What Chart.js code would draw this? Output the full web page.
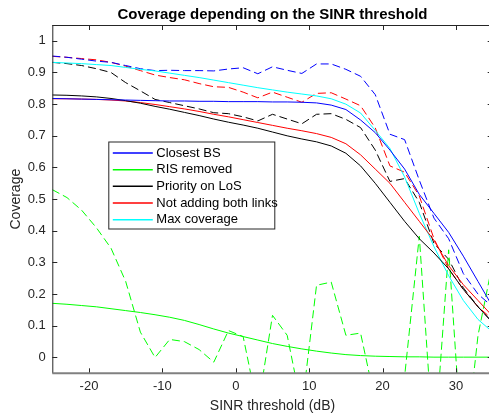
<!DOCTYPE html>
<html lang="en">
<head>
<meta charset="UTF-8">
<script src="https://cdn.jsdelivr.net/npm/chart.js"></script>
<title>Coverage depending on the SINR threshold</title>
<style>
  html, body { margin: 0; padding: 0; overflow: hidden; background: #fff; }
  #wrap { width: 500px; height: 416px; }
</style>
</head>
<body>
<div id="wrap"><canvas id="myChart" width="500" height="416"></canvas></div>
<script>
// SINR threshold values (dB)
const sinr = [-25, -23, -21, -19, -17, -15, -13, -11, -9, -7, -5, -3, -1, 1, 3, 5, 7, 9, 11, 13, 15, 17, 19, 21, 23, 25, 27, 29, 31, 33, 35];

// analytical curves (solid)
const closestBS = [0.818, 0.817, 0.816, 0.815, 0.814, 0.813, 0.812, 0.811, 0.810, 0.810, 0.809, 0.809, 0.808, 0.808, 0.808, 0.807, 0.807, 0.806, 0.804, 0.797, 0.783, 0.750, 0.710, 0.655, 0.595, 0.515, 0.455, 0.395, 0.320, 0.240, 0.160];
const risRemoved = [0.171, 0.168, 0.164, 0.160, 0.154, 0.148, 0.142, 0.135, 0.127, 0.117, 0.104, 0.090, 0.077, 0.066, 0.055, 0.044, 0.035, 0.027, 0.020, 0.014, 0.009, 0.006, 0.004, 0.003, 0.002, 0.002, 0.001, 0.001, 0.001, 0.001, 0.001];
const priorityLoS = [0.829, 0.828, 0.826, 0.823, 0.818, 0.811, 0.803, 0.793, 0.784, 0.774, 0.764, 0.753, 0.743, 0.734, 0.724, 0.712, 0.700, 0.690, 0.681, 0.668, 0.645, 0.605, 0.550, 0.490, 0.430, 0.375, 0.330, 0.280, 0.215, 0.160, 0.110];
const notAdding = [0.817, 0.817, 0.816, 0.815, 0.813, 0.810, 0.805, 0.799, 0.792, 0.785, 0.777, 0.768, 0.760, 0.751, 0.742, 0.733, 0.724, 0.716, 0.707, 0.695, 0.675, 0.640, 0.595, 0.550, 0.490, 0.430, 0.370, 0.290, 0.230, 0.180, 0.130];
const maxCoverage = [0.932, 0.930, 0.928, 0.925, 0.922, 0.916, 0.910, 0.905, 0.898, 0.891, 0.884, 0.876, 0.868, 0.860, 0.852, 0.845, 0.838, 0.832, 0.826, 0.817, 0.800, 0.772, 0.717, 0.660, 0.570, 0.455, 0.350, 0.258, 0.180, 0.120, 0.080];

// simulated curves (dashed)
const closestBSSim = [0.952, 0.948, 0.942, 0.936, 0.932, 0.922, 0.912, 0.906, 0.907, 0.906, 0.906, 0.905, 0.911, 0.915, 0.896, 0.918, 0.907, 0.897, 0.927, 0.927, 0.910, 0.888, 0.830, 0.705, 0.688, 0.560, 0.440, 0.375, 0.265, 0.200, 0.160];
const risRemovedSim = [0.530, 0.505, 0.465, 0.410, 0.345, 0.240, 0.080, 0.000, 0.057, 0.050, 0.025, -0.015, 0.085, 0.066, -0.160, 0.133, 0.070, -0.160, 0.228, 0.238, 0.070, 0.077, -0.140, -0.200, -0.060, 0.383, -0.300, 0.340, -0.350, 0.070, 0.300];
const priorityLoSSim = [0.932, 0.928, 0.922, 0.912, 0.900, 0.868, 0.842, 0.815, 0.805, 0.795, 0.785, 0.773, 0.770, 0.760, 0.747, 0.768, 0.753, 0.738, 0.768, 0.770, 0.752, 0.726, 0.655, 0.556, 0.565, 0.490, 0.360, 0.310, 0.220, 0.160, 0.110];
const notAddingSim = [0.951, 0.948, 0.944, 0.940, 0.932, 0.920, 0.906, 0.892, 0.884, 0.877, 0.865, 0.855, 0.853, 0.838, 0.820, 0.838, 0.822, 0.806, 0.834, 0.836, 0.816, 0.795, 0.725, 0.605, 0.585, 0.510, 0.375, 0.280, 0.215, 0.160, 0.120];

const seriesNames = ['Closest BS', 'RIS removed', 'Priority on LoS', 'Not adding both links', 'Max coverage'];
const seriesColors = ['#0000ff', '#00ff00', '#000000', '#ff0000', '#00ffff'];
const xTicks = [-20, -10, 0, 10, 20, 30];
const yTicks = [0, 0.1, 0.2, 0.3, 0.4, 0.5, 0.6, 0.7, 0.8, 0.9, 1];
const titleText = 'Coverage depending on the SINR threshold';

const solid = [closestBS, risRemoved, priorityLoS, notAdding, maxCoverage];
const dashed = [closestBSSim, risRemovedSim, priorityLoSSim, notAddingSim];

const pts = arr => arr.map((v, i) => ({ x: sinr[i], y: v }));
const datasets = [];
solid.forEach((arr, i) => datasets.push({
  label: seriesNames[i], data: pts(arr), borderColor: seriesColors[i],
  borderWidth: 1, pointRadius: 0, fill: false, tension: 0, clip: 0
}));
dashed.forEach((arr, i) => datasets.push({
  label: seriesNames[i] + ' (sim)', data: pts(arr), borderColor: seriesColors[i],
  borderWidth: 1, borderDash: [8, 4], pointRadius: 0, fill: false, tension: 0, clip: 0
}));

const AX = '#262626';
Chart.defaults.font.family = '"Liberation Sans", Arial, Helvetica, sans-serif';

// MATLAB-like box with inward ticks
const axesBox = {
  id: 'axesBox',
  afterDatasetsDraw(chart) {
    const { ctx, chartArea: a, scales: { x, y } } = chart;
    ctx.save();
    ctx.strokeStyle = AX;
    ctx.lineWidth = 1;
    ctx.beginPath();
    ctx.moveTo(a.left, a.top + 0.5); ctx.lineTo(a.right, a.top + 0.5);
    ctx.moveTo(a.left + 0.5, a.top); ctx.lineTo(a.left + 0.5, a.bottom);
    ctx.moveTo(a.right - 0.5, a.top); ctx.lineTo(a.right - 0.5, a.bottom);
    xTicks.forEach(v => {
      const p = Math.round(x.getPixelForValue(v)) + 0.5;
      ctx.moveTo(p, a.bottom); ctx.lineTo(p, a.bottom - 5);
      ctx.moveTo(p, a.top); ctx.lineTo(p, a.top + 5);
    });
    yTicks.forEach(v => {
      const p = Math.round(y.getPixelForValue(v)) + 0.5;
      ctx.moveTo(a.left, p); ctx.lineTo(a.left + 5, p);
      ctx.moveTo(a.right, p); ctx.lineTo(a.right - 5, p);
    });
    ctx.stroke();
    ctx.strokeStyle = '#808080';
    ctx.lineWidth = 2;
    ctx.beginPath();
    ctx.moveTo(a.left, a.bottom); ctx.lineTo(a.right, a.bottom);
    ctx.stroke();
    ctx.restore();
  }
};

// title centred over the axes, and legend box inside the axes
const extras = {
  id: 'extras',
  afterDraw(chart) {
    const { ctx, chartArea: a } = chart;
    ctx.save();
    ctx.fillStyle = '#000';
    ctx.font = 'bold 15px "Liberation Sans", Arial, sans-serif';
    ctx.textAlign = 'center';
    ctx.textBaseline = 'middle';
    ctx.fillText(titleText, (a.left + a.right) / 2, 14.5);

    const bx = a.left + 56.5, by = a.top + 117, bw = 166, bh = 87;
    ctx.fillStyle = '#fff';
    ctx.fillRect(bx, by, bw, bh);
    ctx.strokeStyle = AX;
    ctx.lineWidth = 1;
    ctx.strokeRect(bx, by, bw, bh);
    ctx.font = '13px "Liberation Sans", Arial, sans-serif';
    ctx.textAlign = 'left';
    seriesNames.forEach((name, i) => {
      const yy = by + 11 + i * 16.67;
      ctx.strokeStyle = seriesColors[i];
      ctx.lineWidth = 1.5;
      ctx.beginPath();
      ctx.moveTo(bx + 4, yy); ctx.lineTo(bx + 44, yy);
      ctx.stroke();
      ctx.fillStyle = '#000';
      ctx.fillText(name, bx + 47.5, yy);
    });
    ctx.restore();
  }
};

new Chart(document.getElementById('myChart').getContext('2d'), {
  type: 'line',
  data: { datasets },
  options: {
    responsive: false,
    animation: false,
    devicePixelRatio: 1,
    layout: { padding: { top: 25, right: 7.3, left: 0, bottom: 0 } },
    plugins: { legend: { display: false }, tooltip: { enabled: false }, title: { display: false } },
    scales: {
      x: {
        type: 'linear', min: -25, max: 35,
        grid: { display: false, drawTicks: false },
        border: { display: false },
        ticks: { stepSize: 10, color: AX, font: { size: 13 }, padding: 5, maxRotation: 0, callback: v => String(v) },
        afterBuildTicks: s => { s.ticks = xTicks.map(v => ({ value: v })); },
        afterFit: s => { s.height = 42.7; },
        title: { display: true, text: 'SINR threshold (dB)', color: AX, font: { size: 14 }, padding: { top: 0, bottom: 1.6 } }
      },
      y: {
        type: 'linear', min: -0.05, max: 1.05,
        grid: { display: false, drawTicks: false },
        border: { display: false },
        ticks: { stepSize: 0.1, color: AX, font: { size: 13 }, padding: 6.6, callback: v => String(Math.round(v * 10) / 10) },
        afterBuildTicks: s => { s.ticks = yTicks.map(v => ({ value: v })); },
        afterFit: s => { s.width = 52.3; },
        title: { display: true, text: 'Coverage', color: AX, font: { size: 14 }, padding: { top: 7.4, bottom: 0 } }
      }
    }
  },
  plugins: [axesBox, extras]
});
</script>
</body>
</html>
